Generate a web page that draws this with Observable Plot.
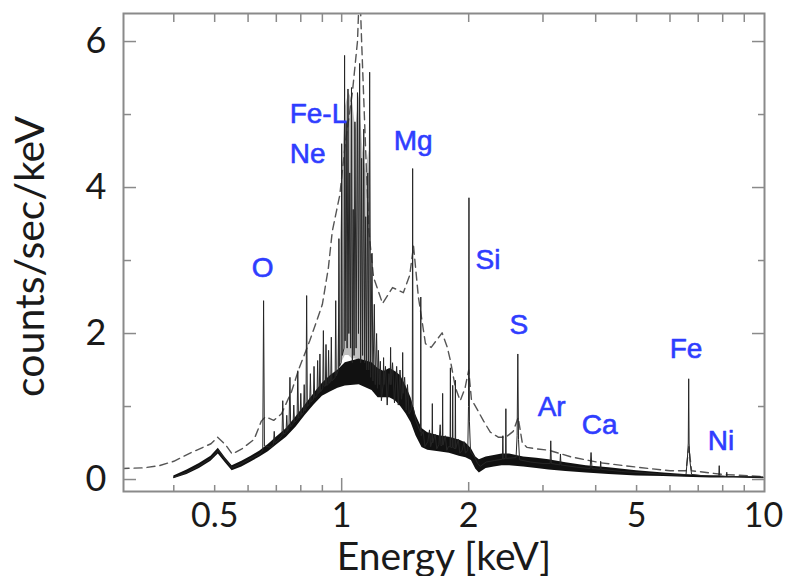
<!DOCTYPE html>
<html>
<head>
<meta charset="utf-8">
<script src="https://cdn.jsdelivr.net/npm/d3@7"></script>
<script src="https://cdn.jsdelivr.net/npm/@observablehq/plot@0.6"></script>
<style>
  html, body { margin: 0; padding: 0; background: #fff; }
  #chart svg { display: block; }
</style>
</head>
<body>
<div id="chart"></div>
<script>
// High-resolution spectrum (solid line): energy [keV] and counts/sec/keV
const solidEnergy = [
  // 0.4 - 0.66 keV (O band)
  0.400,0.430,0.460,0.490,0.510,0.530,0.550,0.580,0.610,0.640,
  0.650,0.653,0.656,
  // 0.68 - 1.0 keV
  0.680,0.689,0.692,0.695,0.710,0.722,0.725,0.728,0.738,0.741,
  0.744,0.750,0.754,0.757,0.767,0.770,0.773,0.784,0.787,0.790,
  0.797,0.800,0.803,0.812,0.815,0.818,0.823,0.826,0.829,0.840,
  0.843,0.846,0.857,0.860,0.863,0.874,0.877,0.880,0.885,0.888,
  0.891,0.902,0.905,0.908,0.915,0.918,0.921,0.928,0.931,0.934,
  0.942,0.945,0.948,0.965,0.968,0.971,0.982,0.985,0.988,0.997,
  1.000,1.003,
  // Fe-L / Ne forest
  1.013,1.016,1.019,1.025,1.030,1.035,1.040,1.045,1.050,1.055,
  1.060,1.065,1.070,1.075,1.082,1.090,1.096,1.103,1.109,1.115,
  1.121,1.128,1.134,1.140,1.146,1.153,1.159,1.165,1.171,1.180,
  1.186,1.195,1.201,1.210,1.216,1.222,1.228,
  // 1.23 - 1.55 keV (Mg)
  1.235,1.242,1.254,1.257,1.260,1.270,1.282,1.294,1.303,1.306,
  1.309,1.320,1.334,1.350,1.362,1.375,1.386,1.392,1.395,1.398,
  1.410,1.422,1.432,1.445,1.460,1.470,1.473,1.476,1.500,1.537,
  1.540,1.543,
  // 1.55 - 2.02 keV (Si)
  1.560,1.575,1.600,1.615,1.625,1.637,1.640,1.643,1.665,1.680,
  1.700,1.712,1.720,1.732,1.735,1.738,1.760,1.775,1.790,1.807,
  1.810,1.813,1.830,1.833,1.836,1.857,1.860,1.863,1.890,1.905,
  1.930,1.950,1.965,1.990,1.998,2.003,2.008,2.020,
  // 2.06 - 10 keV (S, Ar, Ca, Fe, Ni)
  2.060,2.100,2.130,2.200,2.300,2.405,2.410,2.415,2.446,2.450,
  2.454,2.590,2.605,2.615,2.625,2.640,2.800,3.000,3.120,3.130,
  3.140,3.290,3.300,3.310,3.600,3.880,3.900,3.920,4.100,4.110,
  4.120,4.600,5.200,5.800,6.300,6.550,6.600,6.630,6.645,6.660,
  6.690,6.750,7.200,7.830,7.850,7.870,8.160,8.180,8.200,9.000,
  10.00
];
const solidCounts = [
  // 0.4 - 0.66 keV
  0.03,0.10,0.19,0.29,0.40,0.27,0.16,0.22,0.29,0.35,
  0.40,2.45,0.46,
  // 0.68 - 1.0 keV
  0.44,0.48,0.66,0.50,0.55,0.60,1.08,0.62,0.64,0.88,
  0.66,0.70,1.40,0.72,0.76,1.02,0.78,0.82,1.49,0.84,
  0.86,1.18,0.88,0.92,1.30,0.94,0.97,2.52,1.00,1.04,
  1.45,1.06,1.10,1.55,1.12,1.15,1.63,1.18,1.19,1.72,
  1.20,1.25,2.04,1.28,1.28,1.85,1.29,1.30,1.77,1.32,
  1.34,1.95,1.35,1.40,2.45,1.42,1.50,3.30,1.55,1.60,
  4.60,1.70,
  // Fe-L / Ne forest
  1.80,5.81,1.90,4.90,1.80,5.35,2.00,4.20,1.80,5.37,
  1.60,3.70,1.70,4.90,1.80,5.30,2.00,5.70,1.60,4.40,
  1.70,4.80,1.60,3.60,1.50,4.20,1.50,5.58,1.40,3.10,
  1.35,2.40,1.30,2.00,1.25,1.77,1.30,
  // 1.23 - 1.55 keV
  1.62,1.08,1.30,1.67,1.30,1.55,1.02,1.45,1.30,1.81,
  1.30,1.60,1.05,1.55,1.02,1.50,1.10,1.20,1.74,1.18,
  1.40,0.95,1.30,0.90,0.95,1.10,4.26,1.00,0.80,0.65,
  2.50,0.60,
  // 1.55 - 2.02 keV
  0.66,0.45,0.52,0.68,0.45,0.52,1.04,0.50,0.62,0.42,
  0.48,0.75,0.46,0.48,1.18,0.47,0.60,0.40,0.45,0.45,
  1.53,0.44,0.44,1.29,0.44,0.42,1.36,0.42,0.55,0.36,
  0.40,0.52,0.36,0.40,1.00,3.86,0.80,0.38,
  // 2.06 - 10 keV
  0.32,0.22,0.18,0.24,0.26,0.28,0.60,0.28,0.29,0.97,
  0.29,0.30,0.60,1.72,0.55,0.27,0.24,0.22,0.22,0.53,
  0.22,0.20,0.35,0.20,0.17,0.15,0.37,0.15,0.14,0.25,
  0.14,0.11,0.09,0.07,0.06,0.07,0.30,0.50,1.38,0.50,
  0.25,0.07,0.05,0.05,0.19,0.05,0.04,0.10,0.04,0.04,
  0.03
];

// Envelope of the dense, noisy part of the solid spectrum
const bandEnergy = [
  0.40,0.43,0.46,0.49,0.51,0.53,0.55,0.58,0.61,0.64,
  0.67,0.70,0.74,0.78,0.82,0.86,0.90,0.94,0.98,1.02,
  1.10,1.18,1.22,1.26,1.30,1.34,1.38,1.42,1.46,1.50,
  1.55,1.60,1.70,1.80,1.90,1.97,2.03,2.08,2.12,2.20,
  2.30,2.40,2.50,2.70,2.90,3.10,3.40,3.80,4.30,5.00,
  5.80,6.50,7.50,8.50,10.0
];
const bandLow = [
  0.01,0.07,0.15,0.25,0.35,0.23,0.12,0.17,0.24,0.31,
  0.38,0.47,0.58,0.72,0.88,1.02,1.14,1.20,1.25,1.28,
  1.30,1.22,1.12,1.12,1.12,1.08,1.00,0.90,0.78,0.60,
  0.44,0.40,0.38,0.36,0.32,0.30,0.26,0.14,0.09,0.15,
  0.17,0.19,0.19,0.17,0.15,0.13,0.11,0.09,0.07,0.05,
  0.04,0.03,0.02,0.02,0.01
];
const bandHigh = [
  0.05,0.13,0.22,0.32,0.43,0.30,0.19,0.25,0.32,0.39,
  0.48,0.58,0.70,0.86,1.02,1.18,1.32,1.42,1.50,1.60,
  1.65,1.60,1.52,1.48,1.52,1.48,1.42,1.28,1.12,0.88,
  0.70,0.64,0.60,0.58,0.54,0.50,0.42,0.31,0.27,0.31,
  0.33,0.35,0.35,0.31,0.29,0.27,0.23,0.19,0.16,0.12,
  0.09,0.07,0.05,0.04,0.035
];

// Unresolved Fe-L / Ne line forest (grey blend)
const forestEnergy = [0.978,0.99,1.00,1.01,1.02,1.04,1.06,1.08,1.10,1.12,1.14,1.16,1.175,1.19];
const forestLow    = [1.50,1.55,1.60,1.65,1.70,1.70,1.65,1.65,1.60,1.55,1.50,1.45,1.40,1.35];
const forestHigh   = [1.60,2.90,3.80,4.60,5.10,5.30,5.20,4.80,5.30,4.60,4.20,4.50,3.00,1.90];

// Lower-resolution spectrum (dashed line)
const modelEnergy = [
  0.30,0.34,0.37,0.40,0.44,0.49,0.508,0.53,0.55,0.58,
  0.62,0.645,0.66,0.69,0.72,0.76,0.79,0.84,0.87,0.90,
  0.93,0.95,0.99,1.02,1.06,1.09,1.103,1.115,1.14,1.16,
  1.19,1.25,1.32,1.40,1.45,1.48,1.52,1.58,1.63,1.73,
  1.78,1.81,1.86,1.91,1.96,2.00,2.03,2.10,2.17,2.25,
  2.35,2.45,2.55,2.62,2.68,2.75,2.90,3.10,3.50,4.10,
  5.00,6.00,6.55,6.65,6.75,8.00,10.0
];
const modelCounts = [
  0.15,0.16,0.19,0.25,0.37,0.49,0.58,0.48,0.35,0.42,
  0.55,0.80,0.86,0.81,0.90,1.20,1.50,1.90,2.15,2.40,
  2.90,3.40,3.90,4.60,5.30,6.00,6.80,6.00,4.50,3.40,
  2.77,2.41,2.63,2.56,2.80,3.20,2.50,1.86,1.81,2.01,
  1.81,1.63,1.26,1.08,1.25,1.50,1.10,0.95,0.80,0.65,
  0.58,0.58,0.66,0.85,0.50,0.44,0.42,0.40,0.31,0.23,
  0.17,0.12,0.12,0.45,0.12,0.07,0.04
];

// Emission line labels
const lineLabels  = ["O", "Fe-L", "Ne", "Mg", "Si", "S", "Ar", "Ca", "Fe", "Ni"];
const labelEnergy = [0.612, 0.753, 0.753, 1.328, 2.077, 2.50, 2.914, 3.705, 5.99, 7.37];
const labelCounts = [2.78, 4.88, 4.34, 4.51, 2.89, 2.00, 0.877, 0.63, 1.67, 0.40];

// Axis ticks
const xTickValues = [0.5, 1, 2, 5, 10];
const xTickLabels = ["0.5", "1", "2", "5", "10"];
const xMinorTicks = [0.4, 0.5, 0.6, 0.7, 0.8, 0.9, 3, 4, 5, 6, 7, 8, 9];
const xAllTicks = [0.4, 0.5, 0.6, 0.7, 0.8, 0.9, 1, 2, 3, 4, 5, 6, 7, 8, 9];
const yTickValues = [0, 2, 4, 6];
const yMinorTicks = [1, 3, 5];

const solid = solidEnergy.map((e, i) => ({e, c: solidCounts[i]}));
const band = bandEnergy.map((e, i) => ({e, lo: bandLow[i], hi: bandHigh[i]}));
const forest = forestEnergy.map((e, i) => ({e, lo: forestLow[i], hi: forestHigh[i]}));
const model = modelEnergy.map((e, i) => ({e, c: modelCounts[i]}));

const tickStroke = "#8a8a8a";
const textColor = "#1a1a1a";
const blank = () => "";
const tickOpts = (extra) => Object.assign({tickFormat: blank, label: null, stroke: tickStroke, strokeWidth: 1.5}, extra);

const chart = Plot.plot({
  width: 786,
  height: 576,
  marginLeft: 123,
  marginRight: 22,
  marginTop: 13,
  marginBottom: 85,
  style: {background: "#fff", fontFamily: "Lato, sans-serif"},
  x: {type: "log", domain: [0.304, 10.05], axis: null},
  y: {domain: [-0.164, 6.384], axis: null},
  marks: [
    Plot.areaY(forest, {x: "e", y1: "lo", y2: "hi", fill: "#8a8a8a", fillOpacity: 0.55, clip: true}),
    Plot.line(model, {x: "e", y: "c", stroke: "#555", strokeWidth: 1.4, strokeDasharray: "8,5", clip: true}),
    Plot.areaY(band, {x: "e", y1: "lo", y2: "hi", fill: "#111", clip: true}),
    Plot.line(solid, {x: "e", y: "c", stroke: "#262626", strokeWidth: 1.0, clip: true}),
    Plot.frame({stroke: tickStroke, strokeWidth: 2}),
    // inward ticks
    Plot.axisX(tickOpts({ticks: xMinorTicks, anchor: "bottom", tickSize: -6})),
    Plot.axisX(tickOpts({ticks: [1], anchor: "bottom", tickSize: -13})),
    Plot.axisX(tickOpts({ticks: [2], anchor: "bottom", tickSize: -9})),
    Plot.axisX(tickOpts({ticks: xAllTicks, anchor: "top", tickSize: -8})),
    Plot.axisY(tickOpts({ticks: yTickValues, anchor: "left", tickSize: -13})),
    Plot.axisY(tickOpts({ticks: yMinorTicks, anchor: "left", tickSize: -8})),
    Plot.axisY(tickOpts({ticks: yTickValues, anchor: "right", tickSize: -13})),
    Plot.axisY(tickOpts({ticks: yMinorTicks, anchor: "right", tickSize: -7})),
    // tick labels
    Plot.text(xTickValues, {x: d => d, text: (d, i) => xTickLabels[i], frameAnchor: "bottom",
      lineAnchor: "top", dy: 11, fontSize: 34, fill: textColor, fontFamily: "Lato, sans-serif"}),
    Plot.text(yTickValues, {y: d => d, text: d => String(d), frameAnchor: "left",
      textAnchor: "end", lineAnchor: "middle", dx: -17, fontSize: 36, fill: textColor, fontFamily: "Lato, sans-serif"}),
    // axis titles
    Plot.text(["Energy [keV]"], {text: d => d, frameAnchor: "bottom", lineAnchor: "bottom",
      dy: 78, fontSize: 39, fill: textColor, fontFamily: "Lato, sans-serif"}),
    Plot.text(["counts/sec/keV"], {text: d => d, frameAnchor: "left", rotate: -90,
      textAnchor: "middle", lineAnchor: "middle", dx: -93, dy: 4, fontSize: 41, fill: textColor, fontFamily: "Lato, sans-serif"}),
    // element labels
    Plot.text(lineLabels, {x: (d, i) => labelEnergy[i], y: (d, i) => labelCounts[i], text: d => d,
      textAnchor: "start", lineAnchor: "bottom", fontSize: 28, fill: "#2f3dff",
      stroke: "#2f3dff", strokeWidth: 0.6,
      fontFamily: "'Liberation Sans', Arial, sans-serif"})
  ]
});

document.getElementById("chart").appendChild(chart);
</script>
</body>
</html>
